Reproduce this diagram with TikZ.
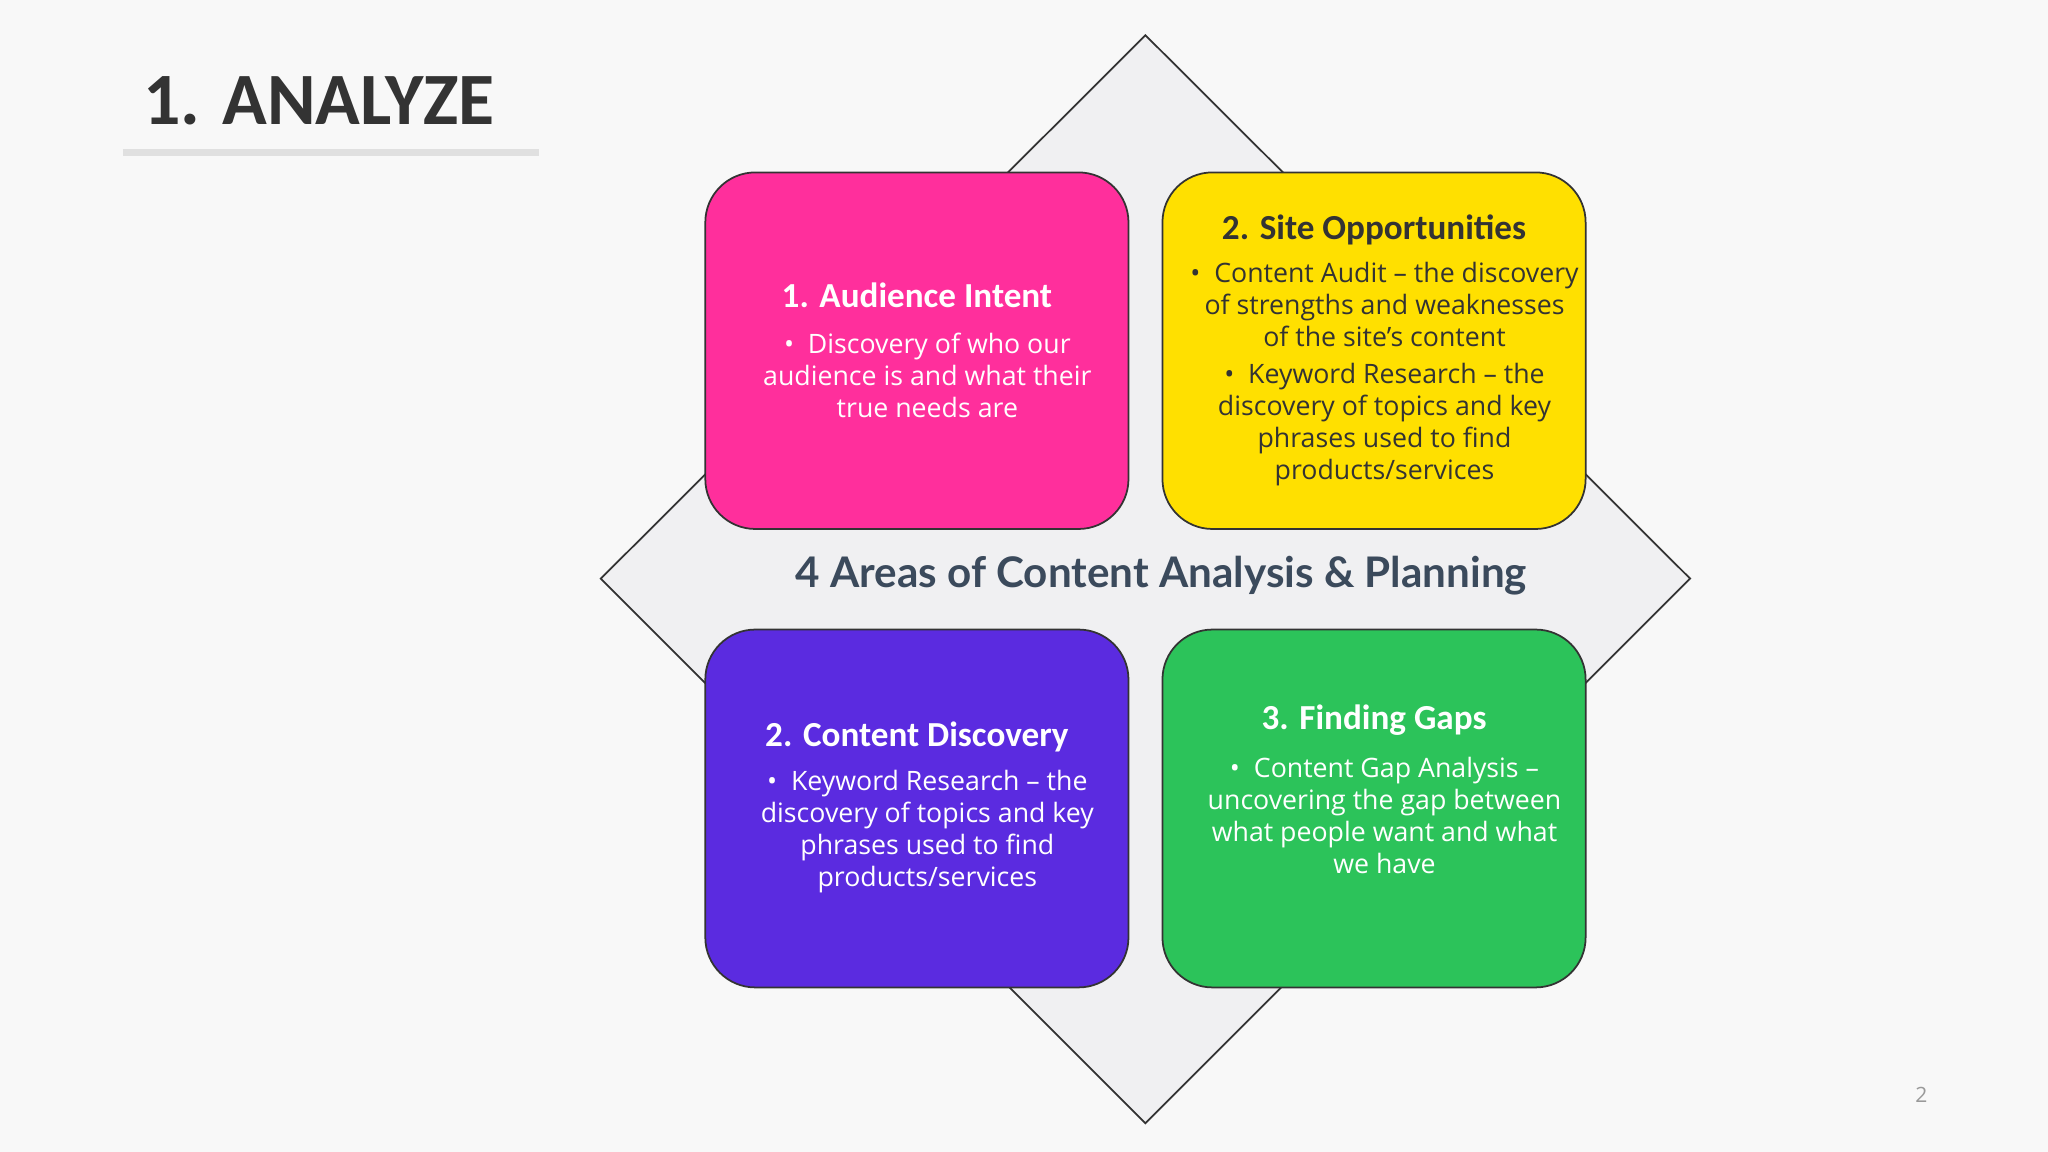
\documentclass[tikz,border=0pt]{standalone}
\usepackage{fontspec}
\setmainfont{Open Sans}
\newfontfamily\carl{Carlito}
\newfontfamily\latof{Lato}
\definecolor{bgc}{HTML}{F8F8F8}
\definecolor{dia}{HTML}{F0F0F2}
\definecolor{pinkc}{HTML}{FF2F9C}
\definecolor{yelc}{HTML}{FFE000}
\definecolor{purc}{HTML}{5B2BE0}
\definecolor{grnc}{HTML}{2CC35A}
\definecolor{ttl}{HTML}{333333}
\definecolor{ctr}{HTML}{3B4A5C}
\tikzset{
 box/.style={draw=ttl,line width=0.5pt,rounded corners=0.5cm},
 btitle/.style={font=\carl\bfseries\fontsize{10}{12}\selectfont},
 bbody/.style={align=center,font=\fontsize{7.6}{9.1}\selectfont},
}
\begin{document}
\begin{tikzpicture}[x=0.013061cm,y=-0.013061cm]
\fill[bgc] (0,0) rectangle (1568,882);
\useasboundingbox (0,0) rectangle (1568,882);
\node[anchor=west,text=ttl,font=\carl\bfseries\fontsize{21}{24}\selectfont] (title) at (100,77) {1. ANALYZE};
\draw[line width=2pt,black!12] (94,117) coordinate (u1) -- (413,117) coordinate (u2);
\draw[fill=dia,draw=ttl,line width=0.5pt] (877,27) -- (1294,443) -- (877,860) -- (460,443) -- cycle;
\draw[box,fill=pinkc] (540,132) rectangle (864,405);
\draw[box,fill=yelc] (890,132) rectangle (1214,405);
\draw[box,fill=purc] (540,482) rectangle (864,756);
\draw[box,fill=grnc] (890,482) rectangle (1214,756);
\node[text=ctr,font=\latof\bfseries\fontsize{12}{14}\selectfont] (center) at (889,441) {4 Areas of Content Analysis \& Planning};
% pink
\node[btitle,text=white] (t1) at (702,226) {1. Audience Intent};
\node[bbody,text=white] (b1) at (710,287.5) {• \ Discovery of who our\\audience is and what their\\true needs are};
% yellow
\node[btitle,text=ttl] (t2) at (1052,176) {2. Site Opportunities};
\node[bbody,text=ttl] (b2) at (1060,286.5) {• \ Content Audit -- the discovery\\of strengths and weaknesses\\of the site’s content\\[1.5pt]• \ Keyword Research -- the\\discovery of topics and key\\phrases used to find\\products/services};
% purple
\node[btitle,text=white] (t3) at (702,564) {2. Content Discovery};
\node[bbody,text=white] (b3) at (710,636.5) {• \ Keyword Research -- the\\discovery of topics and key\\phrases used to find\\products/services};
% green
\node[btitle,text=white] (t4) at (1052,551) {3. Finding Gaps};
\node[bbody,text=white] (b4) at (1060,624.5) {• \ Content Gap Analysis --\\uncovering the gap between\\what people want and what\\we have};
\node[text=black!40,font=\fontsize{6}{7}\selectfont] (pg) at (1471,838) {2};
\end{tikzpicture}
\end{document}
